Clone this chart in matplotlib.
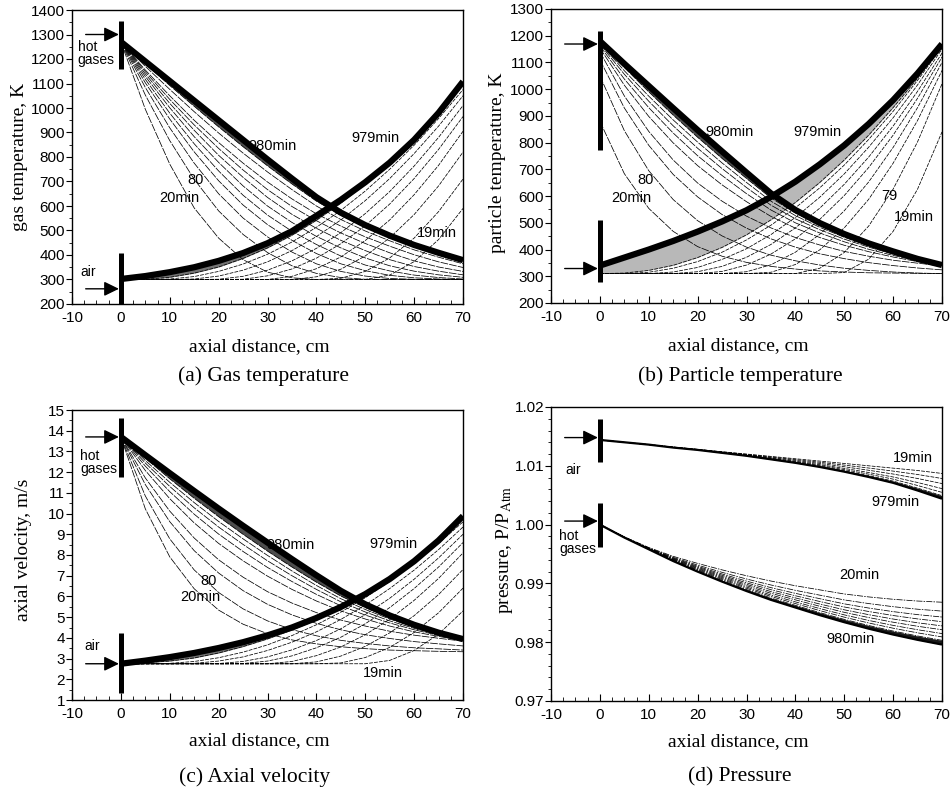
import matplotlib.pyplot as plt
from matplotlib.ticker import MultipleLocator, FormatStrFormatter

plt.rcParams["font.family"] = ["Liberation Sans", "DejaVu Sans"]
plt.rcParams["axes.unicode_minus"] = False
plt.rcParams["mathtext.fontset"] = "stix"

SERIF = ["Liberation Serif", "DejaVu Serif"]

x_cm = [0, 5, 10, 15, 20, 25, 30, 35, 40, 45, 50, 55, 60, 65, 70]

# (a) gas temperature, K -- hot gas period, 20 min ... late, then 980 min
gas_hot = [
    [1270, 995, 771, 592, 469, 381, 330, 307, 300, 300, 300, 300, 300, 300, 300],
    [1270, 1053, 867, 709, 580, 484, 410, 356, 325, 308, 301, 300, 300, 300, 300],
    [1270, 1084, 919, 775, 650, 551, 474, 412, 364, 333, 314, 304, 301, 300, 300],
    [1270, 1103, 955, 821, 703, 604, 524, 460, 406, 364, 336, 317, 307, 302, 300],
    [1270, 1117, 979, 854, 743, 644, 563, 497, 443, 396, 359, 335, 318, 308, 302],
    [1270, 1129, 1001, 883, 778, 682, 600, 533, 476, 429, 388, 356, 334, 319, 309],
    [1270, 1139, 1019, 909, 807, 717, 635, 566, 509, 460, 418, 381, 353, 334, 319],
    [1270, 1148, 1035, 931, 835, 747, 667, 598, 540, 490, 447, 409, 376, 351, 333],
    [1270, 1155, 1050, 950, 859, 775, 698, 629, 568, 518, 474, 436, 401, 372, 349],
    [1270, 1170, 1076, 985, 898, 816, 739, 667, 600, 545, 498, 458, 421, 391, 364],
    [1270, 1180, 1092, 1007, 923, 842, 764, 690, 620, 562, 513, 472, 435, 404, 375],
]
gas_hot_980 = [1270, 1190, 1110, 1030, 950, 870, 790, 712, 636, 573, 522, 479, 441, 409, 379]
# air period, 19 min ... late, then 979 min
gas_air = [
    [300, 300, 300, 300, 300, 300, 300, 300, 300, 300, 300, 318, 373, 463, 590],
    [300, 300, 300, 300, 300, 300, 300, 300, 300, 305, 333, 388, 469, 577, 710],
    [300, 300, 300, 300, 300, 300, 300, 300, 311, 342, 396, 470, 565, 682, 820],
    [300, 300, 300, 300, 300, 300, 300, 313, 344, 392, 459, 543, 646, 766, 905],
    [300, 300, 300, 300, 300, 301, 315, 343, 387, 446, 519, 608, 712, 831, 965],
    [300, 300, 300, 300, 301, 313, 338, 376, 427, 491, 569, 659, 763, 880, 1010],
    [300, 300, 300, 302, 314, 338, 372, 418, 475, 543, 622, 712, 814, 926, 1050],
    [300, 300, 302, 312, 333, 363, 403, 453, 513, 582, 661, 750, 848, 957, 1075],
    [300, 301, 309, 326, 351, 386, 429, 481, 542, 612, 691, 772, 866, 975, 1095],
]
gas_air_979 = [302, 314, 330, 350, 376, 408, 448, 497, 560, 625, 697, 777, 870, 980, 1108]

# (b) particle temperature, K
part_hot = [
    [880, 684, 554, 468, 411, 375, 352, 337, 327, 320, 316, 313, 312, 311, 310],
    [1050, 845, 695, 587, 508, 451, 409, 379, 358, 342, 330, 322, 316, 312, 310],
    [1110, 930, 790, 681, 597, 531, 480, 440, 409, 384, 366, 351, 340, 331, 324],
    [1140, 975, 842, 735, 649, 581, 525, 481, 445, 417, 393, 375, 360, 349, 339],
    [1154, 1015, 898, 799, 714, 642, 579, 524, 480, 445, 416, 392, 372, 355, 340],
    [1162, 1038, 931, 836, 751, 677, 609, 548, 500, 462, 429, 401, 378, 358, 341],
    [1168, 1056, 955, 863, 779, 703, 632, 566, 515, 474, 439, 409, 383, 360, 341],
    [1173, 1069, 974, 885, 802, 724, 651, 581, 527, 483, 446, 414, 387, 362, 341],
    [1177, 1081, 990, 903, 820, 741, 666, 593, 537, 492, 453, 419, 390, 364, 342],
]
part_hot_980 = [1180, 1095, 1012, 929, 847, 767, 688, 610, 548, 499, 458, 423, 393, 365, 342]
part_air = [
    [310, 310, 310, 310, 310, 310, 310, 310, 310, 310, 314, 364, 468, 626, 840],
    [310, 310, 310, 310, 310, 310, 310, 310, 310, 330, 389, 488, 626, 803, 1020],
    [310, 310, 310, 310, 310, 310, 310, 315, 344, 399, 481, 588, 723, 883, 1070],
    [310, 310, 310, 310, 310, 310, 317, 343, 390, 457, 545, 653, 782, 931, 1100],
    [310, 310, 310, 310, 310, 318, 342, 383, 440, 513, 602, 707, 828, 966, 1120],
    [310, 310, 310, 310, 317, 337, 371, 419, 481, 555, 644, 746, 862, 992, 1135],
    [310, 310, 310, 316, 333, 363, 403, 456, 520, 596, 683, 783, 893, 1016, 1150],
    [310, 310, 315, 330, 355, 390, 436, 491, 556, 631, 716, 812, 917, 1033, 1158],
    [310, 312, 322, 341, 370, 408, 455, 511, 576, 651, 735, 828, 931, 1041, 1163],
]
part_air_979 = [340, 370, 400, 432, 467, 505, 547, 597, 654, 719, 790, 870, 959, 1059, 1169]

# (c) axial velocity, m/s
vel_hot = [
    [13.7, 10.23, 7.91, 6.37, 5.34, 4.66, 4.20, 3.90, 3.71, 3.57, 3.48, 3.41, 3.38, 3.35, 3.33],
    [13.7, 10.85, 8.78, 7.28, 6.19, 5.40, 4.82, 4.40, 4.10, 3.88, 3.73, 3.61, 3.52, 3.47, 3.41],
    [13.7, 11.40, 9.61, 8.21, 7.13, 6.28, 5.62, 5.11, 4.70, 4.39, 4.15, 3.97, 3.82, 3.71, 3.61],
    [13.7, 11.72, 10.12, 8.82, 7.77, 6.93, 6.23, 5.68, 5.22, 4.86, 4.57, 4.32, 4.13, 3.98, 3.84],
    [13.7, 12.08, 10.72, 9.55, 8.56, 7.72, 6.98, 6.34, 5.78, 5.30, 4.91, 4.57, 4.29, 4.07, 3.87],
    [13.7, 12.29, 11.06, 9.97, 9.01, 8.17, 7.40, 6.72, 6.10, 5.55, 5.10, 4.72, 4.39, 4.12, 3.89],
    [13.7, 12.44, 11.31, 10.28, 9.35, 8.51, 7.72, 7.00, 6.34, 5.74, 5.25, 4.82, 4.46, 4.16, 3.90],
    [13.7, 12.56, 11.51, 10.53, 9.62, 8.78, 7.98, 7.23, 6.53, 5.89, 5.37, 4.91, 4.52, 4.18, 3.91],
    [13.7, 12.67, 11.68, 10.74, 9.85, 9.00, 8.19, 7.42, 6.69, 6.02, 5.46, 4.98, 4.56, 4.21, 3.92],
]
vel_hot_980 = [13.7, 12.82, 11.95, 11.09, 10.24, 9.41, 8.60, 7.80, 7.02, 6.27, 5.62, 5.08, 4.63, 4.25, 3.94]
vel_air = [
    [2.75, 2.75, 2.75, 2.75, 2.75, 2.75, 2.75, 2.75, 2.75, 2.75, 2.75, 2.91, 3.39, 4.18, 5.30],
    [2.75, 2.75, 2.75, 2.75, 2.75, 2.75, 2.75, 2.75, 2.75, 2.79, 3.05, 3.54, 4.26, 5.21, 6.40],
    [2.75, 2.75, 2.75, 2.75, 2.75, 2.75, 2.75, 2.75, 2.84, 3.12, 3.59, 4.24, 5.07, 6.09, 7.30],
    [2.75, 2.75, 2.75, 2.75, 2.75, 2.75, 2.75, 2.86, 3.14, 3.56, 4.15, 4.90, 5.81, 6.87, 8.10],
    [2.75, 2.75, 2.75, 2.75, 2.75, 2.76, 2.88, 3.13, 3.52, 4.03, 4.68, 5.46, 6.38, 7.42, 8.60],
    [2.75, 2.75, 2.75, 2.75, 2.76, 2.86, 3.08, 3.42, 3.87, 4.44, 5.12, 5.91, 6.83, 7.86, 9.00],
    [2.75, 2.75, 2.75, 2.77, 2.88, 3.08, 3.39, 3.79, 4.29, 4.89, 5.58, 6.38, 7.27, 8.26, 9.35],
    [2.75, 2.75, 2.77, 2.86, 3.04, 3.31, 3.66, 4.11, 4.63, 5.24, 5.94, 6.72, 7.60, 8.56, 9.60],
    [2.75, 2.80, 2.88, 3.03, 3.27, 3.58, 3.95, 4.38, 4.87, 5.42, 6.04, 6.79, 7.66, 8.65, 9.75],
]
vel_air_979 = [2.75, 2.90, 3.07, 3.27, 3.51, 3.79, 4.12, 4.50, 4.96, 5.49, 6.11, 6.84, 7.70, 8.70, 9.88]

# (d) pressure, P/P_Atm
pres_hot = [
    [1.0, 0.9979, 0.9961, 0.9946, 0.9934, 0.9923, 0.9913, 0.9904, 0.9896, 0.9889, 0.9882, 0.9877, 0.9873, 0.9870, 0.9868],
    [1.0, 0.99788, 0.99604, 0.99443, 0.99311, 0.99188, 0.99075, 0.98973, 0.98882, 0.98800, 0.98719, 0.98657, 0.98604, 0.98561, 0.98529],
    [1.0, 0.99787, 0.99600, 0.99432, 0.99291, 0.99160, 0.99039, 0.98928, 0.98831, 0.98740, 0.98652, 0.98581, 0.98520, 0.98469, 0.98428],
    [1.0, 0.99785, 0.99596, 0.99423, 0.99276, 0.99138, 0.99010, 0.98893, 0.98790, 0.98692, 0.98599, 0.98522, 0.98454, 0.98396, 0.98349],
    [1.0, 0.99784, 0.99593, 0.99415, 0.99262, 0.99118, 0.98984, 0.98861, 0.98753, 0.98649, 0.98551, 0.98468, 0.98394, 0.98330, 0.98277],
    [1.0, 0.99784, 0.99591, 0.99408, 0.99249, 0.99100, 0.98961, 0.98832, 0.98720, 0.98611, 0.98508, 0.98419, 0.98340, 0.98271, 0.98212],
    [1.0, 0.99783, 0.99588, 0.99401, 0.99236, 0.99082, 0.98938, 0.98803, 0.98686, 0.98572, 0.98465, 0.98370, 0.98286, 0.98212, 0.98147],
    [1.0, 0.99782, 0.99585, 0.99394, 0.99225, 0.99066, 0.98917, 0.98778, 0.98657, 0.98537, 0.98426, 0.98327, 0.98238, 0.98159, 0.98090],
    [1.0, 0.99781, 0.99583, 0.99388, 0.99214, 0.99050, 0.98896, 0.98752, 0.98627, 0.98503, 0.98388, 0.98284, 0.98190, 0.98106, 0.98032],
]
pres_hot_980 = [1.0, 0.9978, 0.9958, 0.9938, 0.9920, 0.9903, 0.9887, 0.9872, 0.9859, 0.9846, 0.9834, 0.9823, 0.9813, 0.9804, 0.9796]
pres_air = [
    [1.0144, 1.0140, 1.0136, 1.0132, 1.0128, 1.0124, 1.0120, 1.0116, 1.0112, 1.0108, 1.0104, 1.0100, 1.0096, 1.0092, 1.0087],
    [1.0144, 1.0140, 1.0136, 1.01318, 1.01278, 1.01236, 1.01194, 1.0115, 1.01106, 1.0106, 1.01012, 1.00962, 1.0091, 1.00852, 1.00784],
    [1.0144, 1.0140, 1.0136, 1.01316, 1.01276, 1.01232, 1.01188, 1.0114, 1.01092, 1.0104, 1.00984, 1.00924, 1.0086, 1.00784, 1.00698],
    [1.0144, 1.0140, 1.0136, 1.01314, 1.01274, 1.01228, 1.01182, 1.0113, 1.01078, 1.0102, 1.00956, 1.00886, 1.0081, 1.00716, 1.00612],
    [1.0144, 1.0140, 1.0136, 1.01313, 1.01273, 1.01225, 1.01178, 1.01123, 1.01068, 1.01005, 1.00935, 1.00858, 1.00773, 1.00665, 1.00548],
    [1.0144, 1.0140, 1.0136, 1.01311, 1.01271, 1.01222, 1.01174, 1.01116, 1.01058, 1.00992, 1.00917, 1.00833, 1.0074, 1.00621, 1.00492],
]
pres_air_979 = [1.0144, 1.0140, 1.0136, 1.0131, 1.0127, 1.0122, 1.0117, 1.0111, 1.0105, 1.0098, 1.0090, 1.0081, 1.0071, 1.0058, 1.0044]

HOT_DASH = (0, (10, 1.5))
AIR_DASH = (0, (5, 1.5))


def draw_family(ax, curves, final, dash, lw_final, shade):
    for ys in curves:
        ax.plot(x_cm, ys, color="black", lw=0.55, linestyle=dash)
    # the late-time curves pile up into a dark band next to the final one
    ax.fill_between(x_cm, curves[-1], final, color=shade, lw=0)
    ax.plot(x_cm, final, color="black", lw=lw_final, solid_joinstyle="round",
            solid_capstyle="butt")


def inlet(ax, bar, arrow_y):
    ax.plot([0, 0], bar, color="black", lw=3.6, solid_capstyle="butt")
    ax.annotate("", xy=(-0.4, arrow_y), xytext=(-7.2, arrow_y),
                arrowprops=dict(arrowstyle="-|>,head_length=0.45,head_width=0.22",
                                color="black", lw=1.0, mutation_scale=20,
                                shrinkA=0, shrinkB=0))


def style_axes(ax, ylim, ymajor, yminor, ylabel, ylab_xy, xlab_y):
    ax.set_xlim(-10, 70)
    ax.set_ylim(*ylim)
    ax.xaxis.set_major_locator(MultipleLocator(10))
    ax.xaxis.set_minor_locator(MultipleLocator(2.5))
    ax.yaxis.set_major_locator(MultipleLocator(ymajor))
    ax.yaxis.set_minor_locator(MultipleLocator(yminor))
    ax.tick_params(axis="x", which="both", direction="in", labelsize=11, pad=5)
    ax.tick_params(axis="x", which="major", length=5)
    ax.tick_params(axis="x", which="minor", length=3)
    ax.tick_params(axis="y", which="both", direction="out", labelsize=11, pad=1)
    ax.tick_params(axis="y", which="major", length=4)
    ax.tick_params(axis="y", which="minor", length=2)
    for s in ax.spines.values():
        s.set_linewidth(1.0)
    ax.set_xlabel("axial distance, cm", family=SERIF, fontsize=14)
    ax.xaxis.set_label_coords(0.48, xlab_y)
    ax.set_ylabel(ylabel, family=SERIF, fontsize=14, va="center")
    ax.yaxis.set_label_coords(*ylab_xy)


fig = plt.figure(figsize=(9.51, 7.91), dpi=100)
W, H = 951, 791


def add_axes(left, top, right, bottom):
    return fig.add_axes([left / W, 1 - bottom / H, (right - left) / W, (bottom - top) / H])


ax_a = add_axes(72, 10, 463, 304)
ax_b = add_axes(551, 9, 942, 303)
ax_c = add_axes(72, 410, 463, 700)
ax_d = add_axes(551, 407, 942, 701)

LBL = dict(fontsize=10.5, ha="center", va="center", zorder=6)

# (a)
draw_family(ax_a, gas_hot, gas_hot_980, HOT_DASH, 4.5, "0.3")
draw_family(ax_a, gas_air, gas_air_979, AIR_DASH, 4.5, "0.45")
inlet(ax_a, (1158, 1356), 1300)
inlet(ax_a, (200, 407), 262)
ax_a.text(-8.8, 1222, "hot\ngases", fontsize=10, ha="left", va="center", linespacing=0.9)
ax_a.text(-8.3, 332, "air", fontsize=10, ha="left", va="center")
ax_a.text(31.0, 845, "980min", **LBL)
ax_a.text(52.1, 876, "979min", **LBL)
ax_a.text(15.2, 706, "80", **LBL)
ax_a.text(12.0, 631, "20min", **LBL)
ax_a.text(64.7, 488, "19min", **LBL)
style_axes(ax_a, (200, 1400), 100, 50, "gas temperature, K", (-0.135, 0.5), -0.115)

# (b)
draw_family(ax_b, part_hot, part_hot_980, HOT_DASH, 4.5, "0.3")
draw_family(ax_b, part_air, part_air_979, AIR_DASH, 4.5, "0.72")
inlet(ax_b, (772, 1216), 1169)
inlet(ax_b, (279, 510), 329)
ax_b.text(26.5, 840, "980min", **LBL)
ax_b.text(44.5, 841, "979min", **LBL)
ax_b.text(9.4, 660, "80", **LBL)
ax_b.text(6.5, 594, "20min", **LBL)
ax_b.text(59.2, 600, "79", **LBL)
ax_b.text(64.3, 522, "19min", **LBL)
style_axes(ax_b, (200, 1300), 100, 50, "particle temperature, K", (-0.136, 0.478), -0.115)

# (c)
draw_family(ax_c, vel_hot, vel_hot_980, HOT_DASH, 4.5, "0.3")
draw_family(ax_c, vel_air, vel_air_979, AIR_DASH, 4.5, "0.45")
inlet(ax_c, (11.75, 14.6), 13.7)
inlet(ax_c, (1.34, 4.23), 2.75)
ax_c.text(-8.3, 12.45, "hot\ngases", fontsize=10, ha="left", va="center", linespacing=0.9)
ax_c.text(-7.5, 3.6, "air", fontsize=10, ha="left", va="center")
ax_c.text(34.8, 8.5, "980min", **LBL)
ax_c.text(55.8, 8.55, "979min", **LBL)
ax_c.text(18.0, 6.75, "80", **LBL)
ax_c.text(16.2, 5.95, "20min", **LBL)
ax_c.text(53.6, 2.3, "19min", **LBL)
style_axes(ax_c, (1, 15), 1, 0.5, "axial velocity, m/s", (-0.123, 0.517), -0.11)

# (d)
draw_family(ax_d, pres_hot, pres_hot_980, (0, (8, 1.5, 2, 1.5)), 1.6, "0.1")
draw_family(ax_d, pres_air, pres_air_979, AIR_DASH, 1.6, "0.1")
inlet(ax_d, (1.0107, 1.018), 1.0148)
inlet(ax_d, (0.99627, 1.00362), 1.0006)
ax_d.text(-7.1, 1.0093, "air", fontsize=10, ha="left", va="center")
ax_d.text(-8.3, 0.9970, "hot\ngases", fontsize=10, ha="left", va="center", linespacing=0.9)
ax_d.text(64.1, 1.01125, "19min", **LBL)
ax_d.text(60.4, 1.00385, "979min", **LBL)
ax_d.text(53.0, 0.99145, "20min", **LBL)
ax_d.text(51.2, 0.9805, "980min", **LBL)
style_axes(ax_d, (0.97, 1.02), 0.01, 0.002, "pressure, P/P$_{\\mathrm{Atm}}$", (-0.118, 0.514), -0.11)
ax_d.yaxis.set_major_formatter(FormatStrFormatter("%.2f"))

captions = [("(a) Gas temperature", 264, 376), ("(b) Particle temperature", 740, 376),
            ("(c) Axial velocity", 255, 777), ("(d) Pressure", 740, 777)]
for text, cx, cy in captions:
    fig.text(cx / W, 1 - cy / H, text, family=SERIF, fontsize=15.5, ha="center", va="center")

fig.savefig("out.png", dpi=100)
